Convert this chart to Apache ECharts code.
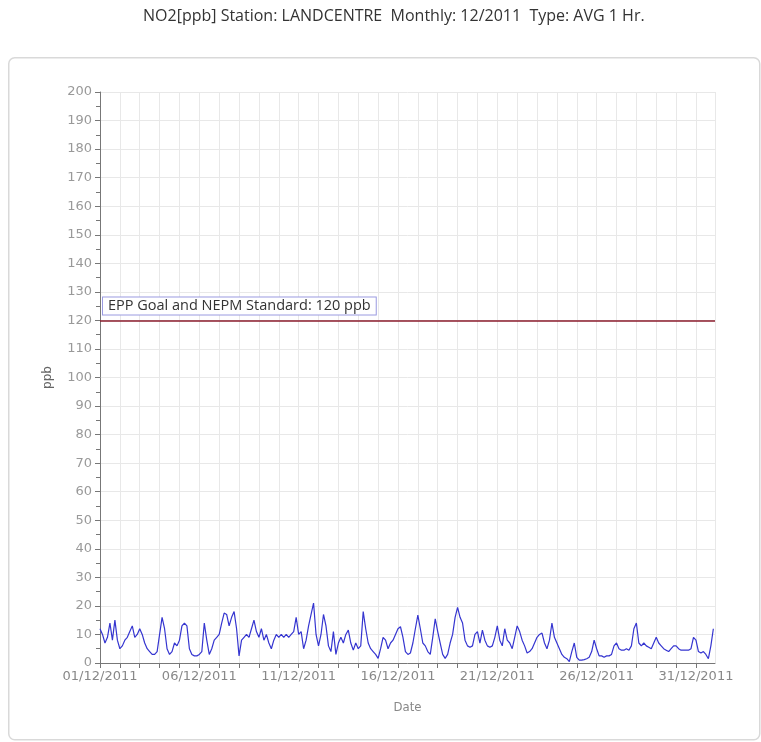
<!DOCTYPE html>
<html><head><meta charset="utf-8">
<script src="https://cdn.jsdelivr.net/npm/echarts@6/dist/echarts.min.js"></script>
<style>html,body{margin:0;padding:0;background:#fff}#c{width:761px;height:742px}</style>
</head><body><div id="c"></div>
<script>
const titleText = 'NO2[ppb] Station: LANDCENTRE  Monthly: 12/2011  Type: AVG 1 Hr.';
const stepHours = 3; // readings every 3 hours from 01/12/2011 00:00
const no2Values = [
  12, 10, 7, 9, 14, 8, 15, 8,        // 01/12
  5, 6, 8, 9, 11, 13, 9, 10,         // 02/12
  12, 10, 7, 5, 4, 3, 3, 4,          // 03/12
  10, 16, 12, 5, 3, 4, 7, 6,         // 04/12
  8, 13, 14, 13, 5, 3, 2.5, 2.5,     // 05/12
  3, 4, 14, 8, 3, 5, 8, 9,           // 06/12
  10, 14, 17.5, 17, 13, 16, 18, 12,  // 07/12
  2.5, 8, 9, 10, 9, 12, 15, 11,      // 08/12
  9, 12, 8, 10, 7, 5, 8, 10,         // 09/12
  9, 10, 9, 10, 9, 10, 11, 16,       // 10/12
  10, 11, 5, 8, 13, 17, 21, 10,      // 11/12
  6, 10, 17, 13, 6, 4, 11, 3,        // 12/12
  7, 9, 7, 10, 11.5, 7, 4.5, 7,      // 13/12
  5, 6, 18, 12, 7, 5, 4, 3,          // 14/12
  1.6, 5, 9, 8, 5, 7, 8, 10,         // 15/12
  12, 12.7, 9, 4, 3, 3.5, 7, 12,     // 16/12
  16.8, 12, 7, 6, 4, 3, 9, 15.5,     // 17/12
  11, 7, 3, 1.6, 3, 7, 10, 16,       // 18/12
  19.5, 16, 14, 8, 6, 5.5, 6, 10,    // 19/12
  11, 7, 11.5, 8, 6, 5.5, 6, 9,      // 20/12
  13, 8, 6, 12, 8, 7, 5, 9,          // 21/12
  13, 11, 8, 6, 3.5, 4, 5, 7,        // 22/12
  9, 10, 10.5, 7, 5, 8, 14, 9,       // 23/12
  7, 5, 3, 2, 1.5, 0.5, 4, 7,        // 24/12
  2, 1, 1, 1.2, 1.5, 2, 4, 8,        // 25/12
  5, 2.5, 2.5, 2, 2.5, 2.5, 3, 6,    // 26/12
  7, 5, 4.5, 4.5, 5, 4.5, 6, 12,     // 27/12
  14, 7, 6, 7, 6, 5.5, 5, 7,         // 28/12
  9, 7, 6, 5, 4.5, 4, 5, 6,          // 29/12
  6, 5, 4.5, 4.5, 4.5, 4.5, 5, 9,    // 30/12
  8, 4, 3.5, 4, 3, 1.5, 6, 12        // 31/12
];
const xTickLabels = ['01/12/2011','06/12/2011','11/12/2011','16/12/2011','21/12/2011','26/12/2011','31/12/2011'];
const standardValue = 120;
const standardLabel = 'EPP Goal and NEPM Standard: 120 ppb';

const seriesData = no2Values.map((v, i) => [i * stepHours, v]);
const chart = echarts.init(document.getElementById('c'), null, {renderer: 'canvas'});
chart.setOption({
  animation: false,
  backgroundColor: '#fff',
  title: {text: titleText, left: 138, top: 3,
    textStyle: {fontSize: 16, fontWeight: 'normal', color: '#333', fontFamily: 'Open Sans'}},
  graphic: [{type: 'rect', left: 8, top: 57, z: -10,
    shape: {width: 751, height: 682, r: 6},
    style: {fill: '#fff', stroke: '#d9d9d9', lineWidth: 1.5}}],
  grid: {left: 100, right: 46, top: 92, bottom: 79},
  xAxis: {
    type: 'value', min: 0, max: 743, interval: 24,
    name: 'Date', nameLocation: 'middle', nameGap: 38,
    nameTextStyle: {color: '#888', fontSize: 13, fontFamily: 'DejaVu Sans Condensed'},
    axisLine: {show: true, lineStyle: {color: '#777'}},
    axisTick: {show: true, length: 5, lineStyle: {color: '#777'}},
    axisLabel: {color: '#888', fontSize: 13, fontFamily: 'DejaVu Sans', showMaxLabel: false, margin: 7,
      formatter: v => (v % 120 === 0 && xTickLabels[v / 120]) || ''},
    splitLine: {show: true, lineStyle: {color: '#e8e8e8'}}
  },
  yAxis: {
    type: 'value', min: 0, max: 200, interval: 10,
    name: 'ppb', nameLocation: 'middle', nameGap: 46,
    nameTextStyle: {color: '#666', fontSize: 12, fontFamily: 'DejaVu Sans'},
    axisLine: {show: true, lineStyle: {color: '#777'}},
    axisTick: {show: true, length: 5, lineStyle: {color: '#777'}},
    minorTick: {show: true, splitNumber: 2, length: 4, lineStyle: {color: '#777'}},
    axisLabel: {color: '#999', fontSize: 13, fontFamily: 'DejaVu Sans', margin: 8},
    splitLine: {show: true, lineStyle: {color: '#e8e8e8'}}
  },
  series: [{
    type: 'line', data: seriesData, showSymbol: false, smooth: false,
    lineStyle: {color: '#3535d0', width: 1.2},
    markLine: {
      silent: true, symbol: 'none',
      data: [{yAxis: standardValue}],
      lineStyle: {color: '#8b1c2c', width: 1.5, type: 'solid'},
      label: {show: true, position: 'insideStartTop', formatter: standardLabel, distance: [3, 6],
        color: '#333', fontSize: 14.5, fontFamily: 'Open Sans',
        backgroundColor: '#fff', borderColor: '#9a9ae0', borderWidth: 1, padding: [1, 5]}
    }
  }]
});
</script></body></html>
